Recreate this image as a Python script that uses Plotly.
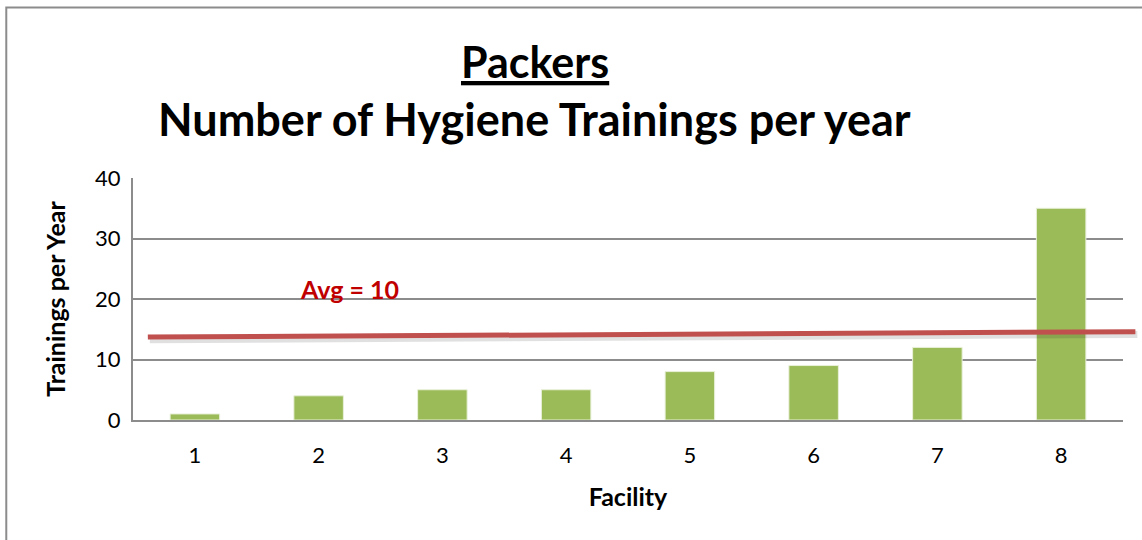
import plotly.graph_objects as go

# data
facilities = ["1", "2", "3", "4", "5", "6", "7", "8"]
trainings = [1, 4, 5, 5, 8, 9, 12, 35]

# hand-drawn average line (slightly sloped in the original), category-index units
avg_label = "Avg = 10"
avg_line_x = [0.12, 8.1]
avg_line_y = [13.7, 14.6]

FONT = "Lato, 'Open Sans', sans-serif"
BAR_COLOR = "#9BBB59"
LINE_COLOR = "#C0504D"
GRID = "#8C8C8C"

fig = go.Figure()
fig.add_trace(go.Bar(
    x=facilities, y=trainings,
    marker=dict(color=BAR_COLOR, line=dict(color="#E8F0D8", width=1)),
    width=0.4,
))

# avg line + soft shadow; x in paper units so it can run past the plot edge
n = len(facilities)
lx = [v / n for v in avg_line_x]
fig.add_shape(
    type="line", xref="paper", yref="y",
    x0=lx[0] + 0.002, x1=lx[1] + 0.002,
    y0=avg_line_y[0] - 0.45, y1=avg_line_y[1] - 0.45,
    line=dict(color="rgba(0,0,0,0.12)", width=7), layer="above",
)
fig.add_shape(
    type="line", xref="paper", yref="y",
    x0=lx[0], x1=lx[1],
    y0=avg_line_y[0], y1=avg_line_y[1],
    line=dict(color=LINE_COLOR, width=5), layer="above",
)
fig.add_annotation(
    x=1.25, y=21.6, xref="x", yref="y", text=f"<b>{avg_label}</b>",
    showarrow=False, font=dict(family=FONT, size=25, color="#C00000"),
)

# titles
fig.add_annotation(
    x=0.406, y=1.48, xref="paper", yref="paper", text="<b><u>Packers</u></b>",
    xanchor="center", yanchor="middle",
    showarrow=False, font=dict(family=FONT, size=43, color="black"),
)
fig.add_annotation(
    x=0.406, y=1.245, xref="paper", yref="paper",
    text="<b>Number of Hygiene Trainings per year</b>",
    xanchor="center", yanchor="middle",
    showarrow=False, font=dict(family=FONT, size=45, color="black"),
)

# outer chart border
fig.add_shape(
    type="rect", xref="paper", yref="paper",
    x0=-0.128, x1=1.03, y0=-0.54, y1=1.705,
    line=dict(color="#8C8C8C", width=2),
)

fig.update_layout(
    width=1142, height=540,
    margin=dict(l=133, r=19, t=178, b=120),
    plot_bgcolor="white", paper_bgcolor="white",
    showlegend=False,
    font=dict(family=FONT, color="black"),
)
fig.update_xaxes(
    range=[-0.5, 7.5],
    showline=True, linecolor=GRID, linewidth=2,
    ticks="", tickfont=dict(size=22), ticklabelstandoff=15,
    title=dict(text="<b>Facility</b>", font=dict(size=25), standoff=21),
)
fig.update_yaxes(
    range=[0, 40], dtick=10,
    showgrid=True, gridcolor=GRID, gridwidth=1.5,
    showline=True, linecolor=GRID, linewidth=2,
    zeroline=False,
    ticks="", tickfont=dict(size=22), ticklabelstandoff=6,
    title=dict(text="<b>Trainings per Year</b>", font=dict(size=25), standoff=22),
)

fig.write_html(
    "out.html",
    config={"displayModeBar": False},
    post_script="document.body.style.margin='0';",
)
